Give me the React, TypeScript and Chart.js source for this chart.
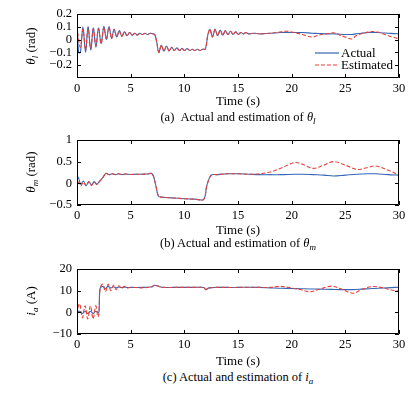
import React, { useEffect, useRef } from "react";
import { Chart, registerables } from "chart.js";

Chart.register(...registerables);

// ---------- data ----------
const seriesLabels = ["Actual", "Estimated"];
const xTickValues = [0, 5, 10, 15, 20, 25, 30];

// (a) theta_l
const timeL = [
  0, 0.15, 0.32, 0.55, 0.8, 1.03, 1.28, 1.52, 1.76, 2.0,
  2.25, 2.5, 2.74, 2.98, 3.22, 3.46, 3.7, 3.94, 4.18, 4.42,
  4.66, 4.9, 5.14, 5.38, 5.62, 5.86, 6.1, 6.34, 6.58, 6.82,
  7.06, 7.25, 7.45, 7.62, 7.86, 8.1, 8.34, 8.58, 8.82, 9.06,
  9.3, 9.54, 9.78, 10.02, 10.26, 10.5, 10.74, 10.98, 11.22, 11.46,
  11.7, 11.95, 12.2, 12.4, 12.62, 12.86, 13.1, 13.34, 13.58, 13.82,
  14.06, 14.3, 14.54, 14.78, 15.02, 15.26, 15.5, 15.74, 16, 16.5,
  17, 18, 19, 19.5, 20, 21, 21.9, 22.5, 23.2, 24,
  24.5, 25, 25.6, 26, 26.5, 27.3, 28, 28.5, 29, 29.5,
  30,
];
const thetaLActual = [
  0.19, -0.1, -0.1, 0.1, -0.1, 0.1, -0.08, 0.09, -0.06, 0.09,
  -0.03, 0.1, 0.0, 0.1, 0.01, 0.08, 0.02, 0.07, 0.025, 0.06,
  0.03, 0.055, 0.035, 0.05, 0.035, 0.05, 0.04, 0.05, 0.04, 0.05,
  0.045, 0.04, -0.03, -0.1, -0.045, -0.09, -0.05, -0.09, -0.06, -0.085,
  -0.065, -0.085, -0.07, -0.085, -0.07, -0.085, -0.075, -0.085, -0.075, -0.085,
  -0.075, -0.075, 0.04, 0.08, 0.02, 0.08, 0.03, 0.075, 0.035, 0.07,
  0.04, 0.065, 0.04, 0.06, 0.04, 0.055, 0.045, 0.055, 0.045, 0.05,
  0.045, 0.05, 0.055, 0.055, 0.055, 0.055, 0.05, 0.048, 0.045, 0.045,
  0.042, 0.04, 0.04, 0.045, 0.05, 0.055, 0.055, 0.052, 0.05, 0.047,
  0.045,
];
const thetaLEstimated = [
  0.1, 0.0, -0.06, 0.08, -0.08, 0.09, -0.07, 0.085, -0.05, 0.085,
  -0.03, 0.1, 0.0, 0.1, 0.01, 0.08, 0.02, 0.07, 0.025, 0.06,
  0.03, 0.055, 0.035, 0.05, 0.035, 0.05, 0.04, 0.05, 0.04, 0.05,
  0.045, 0.04, -0.03, -0.1, -0.045, -0.09, -0.05, -0.09, -0.06, -0.085,
  -0.065, -0.085, -0.07, -0.085, -0.07, -0.085, -0.075, -0.085, -0.075, -0.085,
  -0.075, -0.075, 0.04, 0.08, 0.02, 0.08, 0.03, 0.075, 0.035, 0.07,
  0.04, 0.065, 0.04, 0.06, 0.04, 0.055, 0.045, 0.055, 0.045, 0.05,
  0.045, 0.05, 0.06, 0.065, 0.06, 0.04, 0.02, 0.035, 0.045, 0.052,
  0.035, 0.02, 0.005, 0.03, 0.045, 0.062, 0.06, 0.045, 0.03, 0.018,
  0.005,
];
const thetaLTicks = [-0.2, -0.1, 0, 0.1, 0.2];

// (b) theta_m
const timeM = [
  0, 0.15, 0.35, 0.6, 0.85, 1.1, 1.35, 1.6, 1.85, 2.1,
  2.4, 2.7, 3.0, 3.3, 3.6, 3.9, 4.2, 4.5, 5, 5.5,
  6, 6.5, 7.0, 7.3, 7.6, 8, 9, 10, 11, 11.8,
  12.1, 12.5, 13, 14, 15, 16, 17, 18, 19, 20.3,
  21, 22, 23, 23.9, 25, 26.1, 27, 27.8, 29, 30,
];
const thetaMActual = [
  0.17, 0.12, -0.02, 0.05, -0.05, 0.04, -0.04, 0.04, -0.02, 0.05,
  0.13, 0.23, 0.2, 0.22, 0.2, 0.22, 0.2, 0.215, 0.205, 0.21,
  0.21, 0.215, 0.22, 0.0, -0.3, -0.32, -0.34, -0.355, -0.365, -0.37,
  -0.05, 0.19, 0.2, 0.22, 0.22, 0.21, 0.2, 0.2, 0.2, 0.21,
  0.21, 0.2, 0.19, 0.17, 0.19, 0.21, 0.22, 0.22, 0.2, 0.19,
];
const thetaMEstimated = [
  0.05, 0.02, -0.06, 0.03, -0.06, 0.03, -0.05, 0.03, -0.03, 0.04,
  0.13, 0.23, 0.2, 0.22, 0.2, 0.22, 0.2, 0.215, 0.205, 0.21,
  0.21, 0.215, 0.22, 0.0, -0.3, -0.32, -0.34, -0.355, -0.365, -0.37,
  -0.05, 0.19, 0.2, 0.22, 0.22, 0.21, 0.22, 0.26, 0.35, 0.48,
  0.44, 0.345, 0.42, 0.5, 0.42, 0.32, 0.36, 0.4, 0.3, 0.19,
];
const thetaMTicks = [-0.5, 0, 0.5, 1];

// (c) i_a
const timeA = [
  0, 0.06, 0.25, 0.5, 0.75, 1.0, 1.25, 1.5, 1.75, 1.95,
  2.05, 2.15, 2.4, 2.65, 2.9, 3.15, 3.4, 3.65, 3.9, 4.15,
  4.4, 4.65, 5, 6, 7, 7.2, 7.6, 8, 9, 10,
  11, 11.8, 12, 12.3, 13, 14, 15, 16, 17, 18,
  19, 20, 20.8, 21.7, 22.5, 23.7, 24.5, 25.7, 26.5, 27.5,
  28.5, 29.3, 30,
];
const iaActual = [
  -10, 0, 0.5, -0.5, 0.5, -0.5, 0.5, -0.5, 0.5, 0,
  0.3, 11, 12, 11, 12, 11.2, 11.8, 11.3, 11.7, 11.4,
  11.6, 11.5, 11.5, 11.5, 11.8, 12.5, 12, 11.5, 11.5, 11.5,
  11.5, 11.5, 10.5, 11.3, 11.5, 11.5, 11.5, 11.6, 11.5, 11.3,
  11.1, 11, 10.9, 10.8, 10.7, 10.6, 10.5, 10.5, 10.7, 11,
  11.2, 11.4, 11.6,
];
const iaEstimated = [
  -9, 1, 4, -2.5, 3, -3, 3, -3, 3, -2,
  0, 11, 13, 9.5, 13, 10, 12.5, 10.5, 12.3, 11,
  12, 11.2, 11.6, 11.3, 11.8, 12.5, 12, 11.5, 11.5, 11.5,
  11.5, 11.5, 10.5, 11.3, 11.5, 11.5, 11.5, 11.6, 11.5, 11.5,
  12, 11.2, 10.5, 9.5, 10.5, 12.1, 11, 8.8, 10.5, 11.9,
  11.3, 10.3, 9.8,
];
const iaTicks = [-10, 0, 10, 20];

// ---------- styles ----------
const BLUE = "#3566b5";
const RED = "#e8403a";
const FONT = "'Liberation Serif', 'Times New Roman', Times, serif";
const W = 419;

const fmt = (v: number) => (v < 0 ? "\u2212" + String(Math.abs(v)) : String(v));

const framePlugin = {
  id: "matlabFrame",
  afterDatasetsDraw(chart: any) {
    const { ctx, chartArea } = chart;
    const { left, right, top, bottom } = chartArea;
    const xs = chart.scales.x;
    const ys = chart.scales.y;
    const len = 4;
    ctx.save();
    ctx.strokeStyle = "#000";
    ctx.lineWidth = 1;
    ctx.beginPath();
    ctx.rect(left + 0.5, top + 0.5, right - left - 1, bottom - top - 1);
    for (const t of xs.ticks) {
      const px = Math.round(xs.getPixelForValue(t.value)) + 0.5;
      ctx.moveTo(px, bottom);
      ctx.lineTo(px, bottom - len);
      ctx.moveTo(px, top);
      ctx.lineTo(px, top + len);
    }
    for (const t of ys.ticks) {
      const py = Math.round(ys.getPixelForValue(t.value)) + 0.5;
      ctx.moveTo(left, py);
      ctx.lineTo(left + len, py);
      ctx.moveTo(right, py);
      ctx.lineTo(right - len, py);
    }
    ctx.stroke();
    ctx.restore();
  },
};

type PanelProps = {
  top: number;
  height: number;
  areaTop: number;
  areaBottom: number;
  time: number[];
  actual: number[];
  estimated: number[];
  yMin: number;
  yMax: number;
  yTicks: number[];
};

function Panel(p: PanelProps) {
  const ref = useRef<HTMLCanvasElement>(null);
  useEffect(() => {
    const chart = new Chart(ref.current as HTMLCanvasElement, {
      type: "line",
      data: {
        datasets: [
          {
            label: seriesLabels[0],
            data: p.time.map((t, i) => ({ x: t, y: p.actual[i] })),
            borderColor: BLUE,
            borderWidth: 1.1,
            pointRadius: 0,
            tension: 0.35,
            order: 1,
          },
          {
            label: seriesLabels[1],
            data: p.time.map((t, i) => ({ x: t, y: p.estimated[i] })),
            borderColor: RED,
            borderWidth: 1.1,
            borderDash: [4, 2],
            pointRadius: 0,
            tension: 0.35,
            order: 0,
          },
        ],
      },
      options: {
        responsive: false,
        maintainAspectRatio: false,
        animation: false,
        layout: { padding: { top: p.areaTop, right: 20, left: 0, bottom: 0 } },
        plugins: { legend: { display: false }, tooltip: { enabled: false } },
        scales: {
          x: {
            type: "linear",
            min: 0,
            max: 30,
            afterBuildTicks: (s: any) => {
              s.ticks = xTickValues.map((v) => ({ value: v }));
            },
            afterFit: (s: any) => {
              s.height = p.height - p.areaBottom;
            },
            grid: { display: false, drawTicks: false, tickLength: 0 },
            border: { display: false },
            ticks: {
              padding: 3,
              color: "#000",
              maxRotation: 0,
              autoSkip: false,
              font: { family: FONT, size: 12.5 },
              callback: (v: any) => fmt(Number(v)),
            },
            title: {
              display: true,
              text: "Time (s)",
              color: "#000",
              font: { family: FONT, size: 13 },
              padding: { top: 0, bottom: 0 },
            },
          },
          y: {
            type: "linear",
            min: p.yMin,
            max: p.yMax,
            afterBuildTicks: (s: any) => {
              s.ticks = p.yTicks.map((v) => ({ value: v }));
            },
            afterFit: (s: any) => {
              s.width = 77;
            },
            grid: { display: false, drawTicks: false, tickLength: 0 },
            border: { display: false },
            ticks: {
              padding: 5,
              color: "#000",
              autoSkip: false,
              font: { family: FONT, size: 12.5 },
              callback: (v: any) => fmt(Number(v)),
            },
          },
        },
      },
      plugins: [framePlugin],
    } as any);
    return () => chart.destroy();
  }, []);
  return (
    <canvas
      ref={ref}
      width={W}
      height={p.height}
      style={{ position: "absolute", left: 0, top: p.top, width: W, height: p.height }}
    />
  );
}

const textBase: React.CSSProperties = {
  position: "absolute",
  fontFamily: FONT,
  color: "#000",
  whiteSpace: "nowrap",
  lineHeight: "16px",
};

function YTitle({ cy, children }: { cy: number; children: React.ReactNode }) {
  return (
    <div
      style={{
        ...textBase,
        fontSize: 13,
        left: 33,
        top: cy,
        transform: "translate(-50%, -50%) rotate(-90deg)",
      }}
    >
      {children}
    </div>
  );
}

function Caption({ cy, children }: { cy: number; children: React.ReactNode }) {
  return (
    <div
      style={{
        ...textBase,
        fontSize: 12.5,
        left: 77,
        width: 322,
        textAlign: "center",
        top: cy - 8,
      }}
    >
      {children}
    </div>
  );
}

const sub: React.CSSProperties = { fontSize: 9, verticalAlign: "-3px", fontStyle: "italic" };

function LegendRow({ cy, color, dashed, label }: { cy: number; color: string; dashed: boolean; label: string }) {
  return (
    <>
      <svg
        width={24}
        height={4}
        style={{ position: "absolute", left: 315, top: cy - 2 }}
      >
        <line
          x1={0}
          y1={2}
          x2={24}
          y2={2}
          stroke={color}
          strokeWidth={1.2}
          strokeDasharray={dashed ? "4 2" : undefined}
        />
      </svg>
      <div style={{ ...textBase, fontSize: 13, left: 341, top: cy - 8 }}>{label}</div>
    </>
  );
}

export default function App() {
  return (
    <div style={{ position: "absolute", left: 0, top: 0, width: W, height: 394, background: "#fff" }}>
      <Panel
        top={0}
        height={109}
        areaTop={14}
        areaBottom={78}
        time={timeL}
        actual={thetaLActual}
        estimated={thetaLEstimated}
        yMin={-0.3}
        yMax={0.2}
        yTicks={thetaLTicks}
      />
      <Panel
        top={126}
        height={112}
        areaTop={14}
        areaBottom={79}
        time={timeM}
        actual={thetaMActual}
        estimated={thetaMEstimated}
        yMin={-0.5}
        yMax={1}
        yTicks={thetaMTicks}
      />
      <Panel
        top={255}
        height={114}
        areaTop={14}
        areaBottom={79}
        time={timeA}
        actual={iaActual}
        estimated={iaEstimated}
        yMin={-10}
        yMax={20}
        yTicks={iaTicks}
      />

      <YTitle cy={46}>
        <i>θ</i>
        <span style={sub}>l</span> (rad)
      </YTitle>
      <YTitle cy={172}>
        <i>θ</i>
        <span style={sub}>m</span> (rad)
      </YTitle>
      <YTitle cy={301}>
        <i>i</i>
        <span style={sub}>a</span> (A)
      </YTitle>

      <LegendRow cy={53} color={BLUE} dashed={false} label={seriesLabels[0]} />
      <LegendRow cy={65} color={RED} dashed={true} label={seriesLabels[1]} />

      <Caption cy={117}>
        (a)&nbsp;&nbsp;Actual and estimation of <i>θ</i>
        <span style={sub}>l</span>
      </Caption>
      <Caption cy={243}>
        (b) Actual and estimation of <i>θ</i>
        <span style={sub}>m</span>
      </Caption>
      <Caption cy={377}>
        (c) Actual and estimation of <i>i</i>
        <span style={sub}>a</span>
      </Caption>
    </div>
  );
}
